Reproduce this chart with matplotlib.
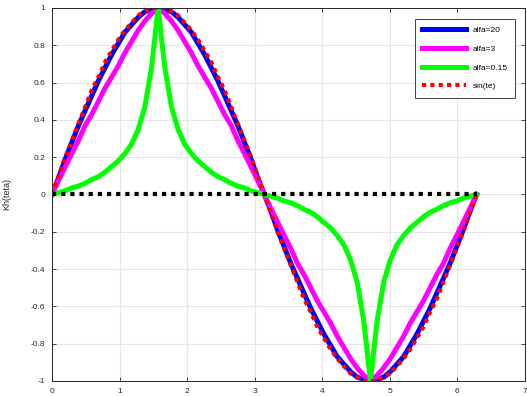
import matplotlib.pyplot as plt
import numpy as np

plt.rcParams['font.family'] = ['Liberation Sans', 'DejaVu Sans']

# te sampled every pi/32 over one period (65 points)
te = np.linspace(0, 2 * np.pi, 65)

# values
sin_te = [0, 0.10, 0.20, 0.29, 0.38, 0.47, 0.56, 0.63, 0.71, 0.77, 0.83, 0.88, 0.92, 0.96, 0.98, 1.00,
          1.00,
          1.00, 0.98, 0.96, 0.92, 0.88, 0.83, 0.77, 0.71, 0.63, 0.56, 0.47, 0.38, 0.29, 0.20, 0.10,
          0,
          -0.10, -0.20, -0.29, -0.38, -0.47, -0.56, -0.63, -0.71, -0.77, -0.83, -0.88, -0.92, -0.96, -0.98, -1.00,
          -1.00,
          -1.00, -0.98, -0.96, -0.92, -0.88, -0.83, -0.77, -0.71, -0.63, -0.56, -0.47, -0.38, -0.29, -0.20, -0.10,
          0]

alfa20 = [0, 0.09, 0.19, 0.28, 0.37, 0.45, 0.53, 0.61, 0.68, 0.75, 0.81, 0.87, 0.91, 0.95, 0.98, 0.99,
          1.00,
          0.99, 0.98, 0.95, 0.91, 0.87, 0.81, 0.75, 0.68, 0.61, 0.53, 0.45, 0.37, 0.28, 0.19, 0.09,
          0,
          -0.09, -0.19, -0.28, -0.37, -0.45, -0.53, -0.61, -0.68, -0.75, -0.81, -0.87, -0.91, -0.95, -0.98, -0.99,
          -1.00,
          -0.99, -0.98, -0.95, -0.91, -0.87, -0.81, -0.75, -0.68, -0.61, -0.53, -0.45, -0.37, -0.28, -0.19, -0.09,
          0]

alfa3 = [0, 0.075, 0.148, 0.22, 0.29, 0.37, 0.43, 0.50, 0.57, 0.63, 0.69, 0.76, 0.82, 0.88, 0.93, 0.97,
         1.00,
         0.97, 0.93, 0.88, 0.82, 0.76, 0.69, 0.63, 0.57, 0.50, 0.43, 0.37, 0.29, 0.22, 0.148, 0.075,
         0,
         -0.075, -0.148, -0.22, -0.29, -0.37, -0.43, -0.50, -0.57, -0.63, -0.69, -0.76, -0.82, -0.88, -0.93, -0.97,
         -1.00,
         -0.97, -0.93, -0.88, -0.82, -0.76, -0.69, -0.63, -0.57, -0.50, -0.43, -0.37, -0.29, -0.22, -0.148, -0.075,
         0]

alfa015 = [0, 0.01, 0.02, 0.035, 0.045, 0.06, 0.08, 0.095, 0.12, 0.15, 0.18, 0.22, 0.27, 0.35, 0.47, 0.68,
           1.00,
           0.68, 0.47, 0.35, 0.27, 0.22, 0.18, 0.15, 0.12, 0.095, 0.08, 0.06, 0.045, 0.035, 0.02, 0.01,
           0,
           -0.01, -0.02, -0.035, -0.045, -0.06, -0.08, -0.095, -0.12, -0.15, -0.18, -0.22, -0.27, -0.35, -0.47, -0.68,
           -1.00,
           -0.68, -0.47, -0.35, -0.27, -0.22, -0.18, -0.15, -0.12, -0.095, -0.08, -0.06, -0.045, -0.035, -0.02, -0.01,
           0]

zero_te = [0, 2 * np.pi]
zero_val = [0, 0]

fig = plt.figure(figsize=(5.27, 3.96), dpi=100)
ax = fig.add_axes([0.0987, 0.038, 0.8975, 0.942])

ax.plot(te, alfa20, color=(0, 0, 1), lw=3.6, label="alfa=20")
ax.plot(te, alfa3, color=(1, 0, 1), lw=3.6, label="alfa=3")
ax.plot(te, alfa015, color=(0, 1, 0), lw=3.6, label="alfa=0.15")
ax.plot(te, sin_te, color=(1, 0, 0), lw=3.0, dashes=(1, 1), dash_capstyle='butt', label="sin(te)")
ax.plot(zero_te, zero_val, color='k', lw=3.0, dashes=(1, 1.2), dash_capstyle='butt')

ax.set_xlim(0, 7)
ax.set_ylim(-1, 1)
ax.set_xticks(np.arange(0, 8, 1))
ax.set_yticks(np.arange(-1, 1.01, 0.2))
ax.set_yticklabels(["-1", "-0.8", "-0.6", "-0.4", "-0.2", "0", "0.2", "0.4", "0.6", "0.8", "1"])
ax.tick_params(direction='in', length=3, width=0.6, labelsize=6, colors='#262626',
               top=True, right=True, pad=5)
ax.grid(True, color='#e6e6e6', lw=0.8)
ax.set_axisbelow(True)
for s in ax.spines.values():
    s.set_color('#262626')
    s.set_linewidth(0.7)

ax.set_ylabel("Kh(teta)", fontsize=6.5, color='#262626', labelpad=14)

leg = ax.legend(loc='upper right', bbox_to_anchor=(0.979, 0.9705), borderaxespad=0,
                fontsize=6, fancybox=False, framealpha=1, edgecolor='#404040',
                handlelength=5.2, labelspacing=1.3, borderpad=0.9, handletextpad=0.8)
leg.get_frame().set_linewidth(0.7)

fig.savefig("out.png", dpi=100)
